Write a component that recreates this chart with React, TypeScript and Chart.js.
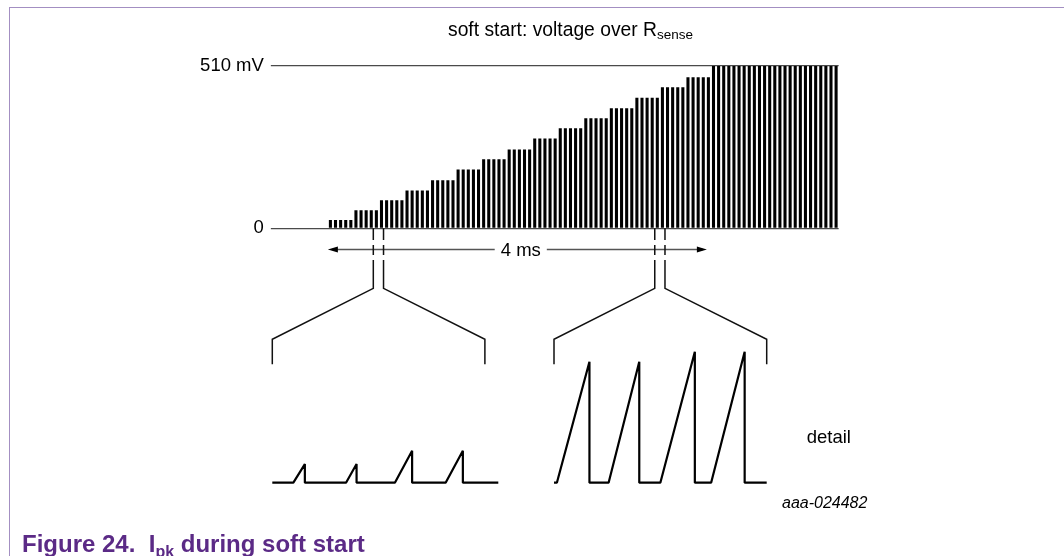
import React, { useEffect, useRef } from 'react';
import { Chart, registerables } from 'chart.js';
Chart.register(...registerables);

// ---- data ----
// soft-start voltage levels over Rsense, one per step (mV)
const stepLevels = [26, 57, 88, 119, 151, 185, 217, 248, 282, 314, 346, 377, 410, 443, 475, 510];
// number of switching pulses drawn at each level
const pulsesPerStep = [5, 5, 5, 5, 5, 5, 5, 5, 5, 5, 5, 5, 5, 5, 5, 25];
const yTickValues = [0, 510];
const yTickLabels = ['0', '510 mV'];
// pulse index (category units) where the 4 ms arrow starts / ends
const arrowStartPulse = -0.5;
const arrowEndPulse = 73.7;
const arrowLabel = '4 ms';
// zoom-window marker positions (pulse index)
const leftZoomMarkers = [8.4, 10.4];
const rightZoomMarkers = [63.5, 65.5];

// detail panels: time (µs) and peak current-sense voltage (mV)
const leftSawStart = [22, 77, 128, 181];
const leftSawPeak = [34, 88, 146, 199];
const leftSawHeight = [63, 63, 108, 108];
const rightSawStart = [3, 57, 111, 164];
const rightSawPeak = [37, 89, 147, 199];
const rightSawHeight = [409, 409, 443, 443];
const leftWindow = 236;
const rightWindow = 222;
const bracketSpan = 222;
const detailMax = 500;

const FONT = "'Liberation Sans', Arial, Helvetica, sans-serif";

const barValues: number[] = stepLevels.flatMap((v, i) => Array(pulsesPerStep[i]).fill(v));
const barLabels: string[] = barValues.map((_, i) => String(i + 1));

function sawPoints(starts: number[], peaks: number[], heights: number[], end: number) {
  const pts: { x: number; y: number }[] = [{ x: 0, y: 0 }];
  starts.forEach((s, i) => {
    pts.push({ x: s, y: 0 }, { x: peaks[i], y: heights[i] }, { x: peaks[i], y: 0 });
  });
  pts.push({ x: end, y: 0 });
  return pts;
}

// layout (pixels)
const W = 1064;
const H = 556;
const MAIN = { left: 327.85, right: 838.65, top: 66, bottom: 228.3 };
const ARROW_Y = 249.5;
const BR_TOP = 339.3;
const BR_BOTTOM = 364.3;
const BR_JOIN = 288.3;
const DETAIL_BASE = 482.7;
const DETAIL_PX_PER_MV = 0.2957;

export default function App() {
  const c1 = useRef<HTMLCanvasElement>(null);
  const c2 = useRef<HTMLCanvasElement>(null);
  const c3 = useRef<HTMLCanvasElement>(null);

  useEffect(() => {
    const arrowPlugin = {
      id: 'arrow4ms',
      afterDraw(chart: any) {
        const ctx = chart.ctx;
        const xs = chart.scales.x;
        const x0 = xs.getPixelForValue(arrowStartPulse);
        const x1 = xs.getPixelForValue(arrowEndPulse);
        const y = ARROW_Y;
        ctx.save();
        ctx.font = `18.5px ${FONT}`;
        const tw = ctx.measureText(arrowLabel).width;
        const tc = (x0 + x1) / 2 + 3.4;
        ctx.strokeStyle = '#555';
        ctx.lineWidth = 1.4;
        ctx.beginPath();
        ctx.moveTo(x0 + 4, y);
        ctx.lineTo(tc - tw / 2 - 6, y);
        ctx.moveTo(tc + tw / 2 + 6, y);
        ctx.lineTo(x1 - 4, y);
        ctx.stroke();
        ctx.fillStyle = '#000';
        ctx.beginPath();
        ctx.moveTo(x0, y);
        ctx.lineTo(x0 + 10, y - 3);
        ctx.lineTo(x0 + 10, y + 3);
        ctx.closePath();
        ctx.fill();
        ctx.beginPath();
        ctx.moveTo(x1, y);
        ctx.lineTo(x1 - 10, y - 3);
        ctx.lineTo(x1 - 10, y + 3);
        ctx.closePath();
        ctx.fill();
        ctx.textAlign = 'center';
        ctx.textBaseline = 'alphabetic';
        ctx.fillText(arrowLabel, tc, y + 6.5);
        ctx.restore();
      },
    };

    const main = new Chart(c1.current!, {
      type: 'bar',
      data: {
        labels: barLabels,
        datasets: [
          {
            data: barValues,
            backgroundColor: '#000',
            borderWidth: 0,
            barPercentage: 0.6,
            categoryPercentage: 1,
          },
        ],
      },
      options: {
        responsive: false,
        animation: false,
        events: [],
        layout: {
          padding: { left: 0, top: MAIN.top, right: W - MAIN.right, bottom: H - MAIN.bottom },
        },
        plugins: { legend: { display: false }, tooltip: { enabled: false }, title: { display: false } },
        scales: {
          x: { display: false, offset: true, grid: { display: false } },
          y: {
            min: 0,
            max: 510,
            afterFit: (s: any) => {
              s.width = MAIN.left;
            },
            afterBuildTicks: (s: any) => {
              s.ticks = yTickValues.map((v) => ({ value: v }));
            },
            ticks: {
              callback: (v: any) => yTickLabels[yTickValues.indexOf(Number(v))] ?? '',
              padding: 7,
              color: '#000',
              font: { family: FONT, size: 18.5 },
            },
            grid: { color: '#4a4a4a', lineWidth: 1.3, drawTicks: true, tickLength: 57 },
            border: { display: false },
          },
        },
      },
      plugins: [arrowPlugin],
    } as any);

    const bracketPlugin = (markers: number[]) => ({
      id: 'bracket',
      afterDraw(chart: any) {
        const ctx = chart.ctx;
        const xs = chart.scales.x;
        const mx = main.scales.x;
        const base = main.chartArea.bottom;
        const bx = [xs.getPixelForValue(0), xs.getPixelForValue(bracketSpan)];
        const mk = markers.map((m) => mx.getPixelForValue(m));
        ctx.save();
        ctx.strokeStyle = '#111';
        ctx.lineWidth = 1.5;
        ctx.lineJoin = 'miter';
        for (let i = 0; i < 2; i++) {
          ctx.beginPath();
          ctx.moveTo(bx[i], BR_BOTTOM);
          ctx.lineTo(bx[i], BR_TOP);
          ctx.lineTo(mk[i], BR_JOIN);
          ctx.lineTo(mk[i], base + 31.7);
          ctx.moveTo(mk[i], base + 26.7);
          ctx.lineTo(mk[i], base + 16.7);
          ctx.moveTo(mk[i], base + 11.7);
          ctx.lineTo(mk[i], base);
          ctx.stroke();
        }
        ctx.restore();
      },
    });

    const detailTop = DETAIL_BASE - detailMax * DETAIL_PX_PER_MV;
    const makeDetail = (
      canvas: HTMLCanvasElement,
      left: number,
      right: number,
      win: number,
      pts: { x: number; y: number }[],
      markers: number[]
    ) =>
      new Chart(canvas, {
        type: 'line',
        data: {
          datasets: [
            {
              data: pts,
              borderColor: '#000',
              borderWidth: 2.2,
              pointRadius: 0,
              tension: 0,
              fill: false,
              borderJoinStyle: 'bevel',
              clip: false,
            },
          ],
        },
        options: {
          responsive: false,
          animation: false,
          events: [],
          layout: { padding: { left, right: W - right, top: detailTop, bottom: H - DETAIL_BASE } },
          plugins: { legend: { display: false }, tooltip: { enabled: false } },
          scales: {
            x: { type: 'linear', display: false, min: 0, max: win },
            y: { display: false, min: 0, max: detailMax },
          },
        },
        plugins: [bracketPlugin(markers)],
      } as any);

    const left = makeDetail(
      c2.current!,
      272.3,
      498.3,
      leftWindow,
      sawPoints(leftSawStart, leftSawPeak, leftSawHeight, leftWindow),
      leftZoomMarkers
    );
    const right = makeDetail(
      c3.current!,
      554,
      766.7,
      rightWindow,
      sawPoints(rightSawStart, rightSawPeak, rightSawHeight, rightWindow),
      rightZoomMarkers
    );

    return () => {
      right.destroy();
      left.destroy();
      main.destroy();
    };
  }, []);

  const cv: React.CSSProperties = { position: 'absolute', left: 0, top: 0, width: W, height: H };
  return (
    <div
      style={{
        position: 'fixed',
        left: 0,
        top: 0,
        width: W,
        height: H,
        background: '#fff',
        overflow: 'hidden',
        fontFamily: FONT,
        color: '#000',
      }}
    >
      <div
        style={{
          position: 'absolute',
          left: 9,
          top: 7,
          right: -2,
          bottom: -2,
          borderTop: '1px solid #a38fc2',
          borderLeft: '1px solid #a38fc2',
        }}
      />
      <canvas ref={c1} width={W} height={H} style={cv} />
      <canvas ref={c2} width={W} height={H} style={cv} />
      <canvas ref={c3} width={W} height={H} style={cv} />
      <div
        style={{
          position: 'absolute',
          left: 448,
          top: 20.2,
          fontSize: 19.3,
          lineHeight: '19.3px',
          whiteSpace: 'nowrap',
        }}
      >
        soft start: voltage over R<span style={{ fontSize: 13.5, verticalAlign: '-3px' }}>sense</span>
      </div>
      <div
        style={{
          position: 'absolute',
          left: 806.7,
          top: 427.6,
          fontSize: 18.5,
          lineHeight: '18.5px',
          whiteSpace: 'nowrap',
        }}
      >
        detail
      </div>
      <div
        style={{
          position: 'absolute',
          left: 782,
          top: 495,
          fontSize: 16,
          lineHeight: '16px',
          fontStyle: 'italic',
          whiteSpace: 'nowrap',
        }}
      >
        aaa-024482
      </div>
      <div
        style={{
          position: 'absolute',
          left: 22,
          top: 531.9,
          fontSize: 24,
          lineHeight: '24px',
          fontWeight: 'bold',
          color: '#5b2a86',
          whiteSpace: 'pre',
        }}
      >
        {'Figure 24.  I'}
        <span style={{ fontSize: 16, verticalAlign: '-5px' }}>pk</span>
        {' during soft start'}
      </div>
    </div>
  );
}
